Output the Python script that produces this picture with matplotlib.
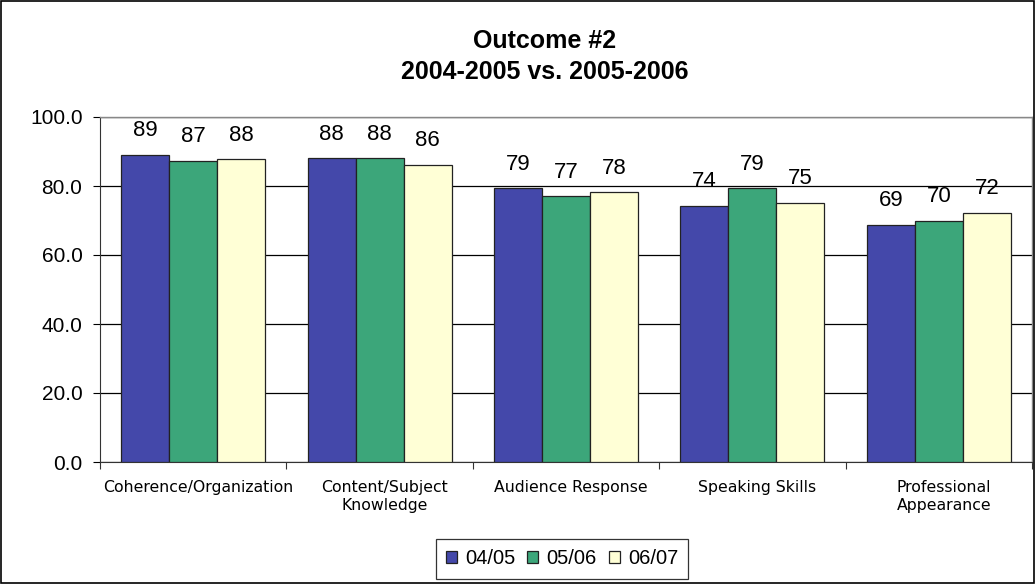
import matplotlib
matplotlib.use("Agg")
import matplotlib.pyplot as plt
import matplotlib.transforms as mtransforms
import numpy as np
from matplotlib.patches import Rectangle

categories = ["Coherence/Organization", "Content/Subject\nKnowledge", "Audience Response",
              "Speaking Skills", "Professional\nAppearance"]
series_names = ["04/05", "05/06", "06/07"]
v0405 = [89.0, 88.0, 79.3, 74.2, 68.8]
v0506 = [87.3, 88.0, 77.0, 79.3, 70.0]
v0607 = [87.8, 86.2, 78.2, 75.2, 72.3]
labels0405 = ["89", "88", "79", "74", "69"]
labels0506 = ["87", "88", "77", "79", "70"]
labels0607 = ["88", "86", "78", "75", "72"]
yticks = [0, 20, 40, 60, 80, 100]

colors = ["#4448AA", "#3CA67A", "#FFFFD6"]

plt.rcParams['font.family'] = ['Liberation Sans', 'DejaVu Sans']

fig = plt.figure(figsize=(10.35, 5.84), dpi=100)
ax = fig.add_axes([100/1035, 1-462/584, (1032-100)/1035, (462-117)/584])

x = np.arange(len(categories))
w = 0.2575
series = [v0405, v0506, v0607]
labs = [labels0405, labels0506, labels0607]
for i, (vals, lab) in enumerate(zip(series, labs)):
    pos = x + (i - 1) * w
    ax.bar(pos, vals, width=w, color=colors[i], edgecolor="#222222", linewidth=0.9,
           label=series_names[i], zorder=3)
    for p, v, t in zip(pos, vals, lab):
        ax.annotate(t, (p, v), xytext=(0, 17.3), textcoords="offset points",
                    ha="center", va="center", fontsize=16, color="black")

ax.set_xlim(-0.5, len(categories) - 0.5)
ax.set_ylim(0, 100)
ax.set_yticks(yticks)
ax.set_yticklabels([f"{t:.1f}" for t in yticks], fontsize=15)
ax.yaxis.grid(True, color="black", linewidth=0.9, zorder=0)
ax.set_axisbelow(True)

ax.set_xticks(np.arange(len(categories) + 1) - 0.5)
ax.set_xticklabels([])
ax.set_xticks(x, minor=True)
ax.set_xticklabels(categories, minor=True, fontsize=11.3, family="DejaVu Sans", linespacing=1.25)
ax.tick_params(axis="x", which="minor", length=0, pad=13)
ax.tick_params(axis="x", which="major", length=5, color="#333333")
ax.tick_params(axis="y", length=5, pad=7.6)
shift = mtransforms.ScaledTranslation(5/100, 0, fig.dpi_scale_trans)
for lbl in ax.get_xticklabels(minor=True):
    lbl.set_transform(lbl.get_transform() + shift)

for s in ["top", "right"]:
    ax.spines[s].set_color("#888888")
    ax.spines[s].set_linewidth(1.0)
ax.spines["left"].set_color("#333333")
ax.spines["bottom"].set_color("#333333")

fig.text(545/1035, 1-41/584, "Outcome #2", ha="center", va="center", fontsize=18, fontweight="bold")
fig.text(545/1035, 1-72/584, "2004-2005 vs. 2005-2006", ha="center", va="center", fontsize=18, fontweight="bold")

leg = fig.legend(loc="center", bbox_to_anchor=(562/1035, 1-559/584), ncol=3, fontsize=14.5,
                 frameon=True, fancybox=False, edgecolor="black", handlelength=0.55, handleheight=0.55,
                 handletextpad=0.4, columnspacing=0.6, borderpad=0.5)
leg.get_frame().set_linewidth(0.9)

fig.patches.append(Rectangle((0.0008, 0.001), 0.998, 0.997, transform=fig.transFigure,
                             fill=False, edgecolor="black", linewidth=1.2))

fig.savefig("out.png", dpi=100)
